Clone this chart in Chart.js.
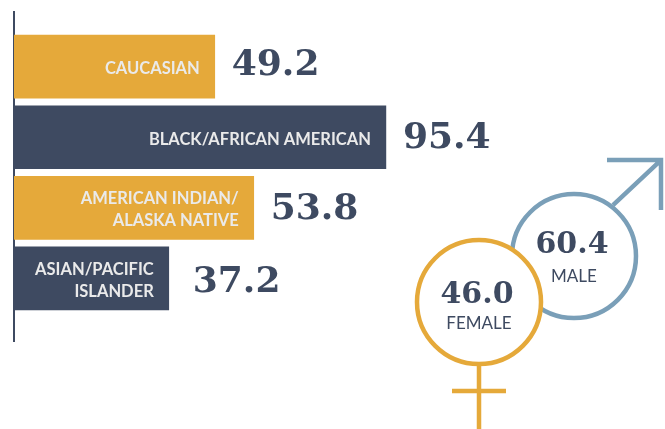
<!DOCTYPE html>
<html>
<head>
<meta charset="utf-8">
<style>
    html, body { margin: 0; padding: 0; background: #fff; overflow: hidden; }
    #wrap { position: relative; width: 665px; height: 429px; }
</style>
<script src="https://cdn.jsdelivr.net/npm/chart.js@4/dist/chart.umd.min.js"></script>
</head>
<body>
<div id="wrap"><canvas id="chart"></canvas></div>
<script>
const raceLabels = [['CAUCASIAN'], ['BLACK/AFRICAN AMERICAN'], ['AMERICAN INDIAN/', 'ALASKA NATIVE'], ['ASIAN/PACIFIC', 'ISLANDER']];
const raceValues = [49.2, 95.4, 53.8, 37.2];
// the bars in the picture are not to scale with the printed numbers, so the drawn lengths are read separately
const raceBarLengths = [51.5, 95.4, 61.5, 39.7];
const genderLabels = ['MALE', 'FEMALE'];
const genderValues = [60.4, 46.0];

const GOLD = '#e5a93a';
const NAVY = '#3e4a61';
const BLUE = '#7a9fb8';
const LABEL_FONT = 'Lato, sans-serif';
const VALUE_FONT = '"DejaVu Serif", serif';

const textPlugin = {
    id: 'textPlugin',
    afterDatasetsDraw(chart) {
        const ctx = chart.ctx;
        // the numbers wander a little around the bar centre in the original
        const valueShift = [-1, 1, 2, 4];
        ctx.save();
        ctx.textBaseline = 'middle';

        // bars: category inside, value outside
        chart.getDatasetMeta(0).data.forEach((bar, i) => {
            ctx.textAlign = 'right';
            ctx.fillStyle = '#eaeaea';
            ctx.font = 'bold 16.5px ' + LABEL_FONT;
            const lines = raceLabels[i];
            lines.forEach((line, j) => {
                ctx.fillText(line, bar.x - 15, bar.y + 2 + (j - (lines.length - 1) / 2) * 22.5);
            });
            ctx.textAlign = 'left';
            ctx.fillStyle = NAVY;
            ctx.font = 'bold 36px ' + VALUE_FONT;
            ctx.fillText(raceValues[i].toFixed(1), bar.x + (i === 3 ? 24 : 17), bar.y + valueShift[i]);
        });

        chart.getDatasetMeta(1).data.forEach((pt, i) => {
            ctx.lineWidth = 4.5;
            ctx.strokeStyle = i === 0 ? BLUE : GOLD;
            ctx.beginPath();
            if (i === 0) {
                // male arrow
                ctx.moveTo(pt.x + 39, pt.y - 51);
                ctx.lineTo(pt.x + 87, pt.y - 96);
                ctx.moveTo(pt.x + 33, pt.y - 96);
                ctx.lineTo(pt.x + 87, pt.y - 96);
                ctx.lineTo(pt.x + 87, pt.y - 46);
            } else {
                // female cross
                ctx.moveTo(pt.x, pt.y + 64);
                ctx.lineTo(pt.x, pt.y + 127);
                ctx.moveTo(pt.x - 27, pt.y + 89);
                ctx.lineTo(pt.x + 27, pt.y + 89);
            }
            ctx.stroke();

            ctx.textAlign = 'center';
            ctx.fillStyle = NAVY;
            ctx.font = 'bold 30px ' + VALUE_FONT;
            ctx.fillText(genderValues[i].toFixed(1), pt.x - 2, pt.y - (i === 0 ? 11 : 7));
            ctx.font = '17px ' + LABEL_FONT;
            ctx.fillText(genderLabels[i], pt.x, pt.y + (i === 0 ? 20 : 21));
        });
        ctx.restore();
    }
};

new Chart(document.getElementById('chart').getContext('2d'), {
    data: {
        datasets: [{
            type: 'bar',
            data: raceBarLengths.map((val, i) => ({ x: val, y: i })),
            backgroundColor: raceLabels.map((_, i) => i % 2 === 0 ? GOLD : NAVY),
            barThickness: 63,
            xAxisID: 'x',
            yAxisID: 'y',
            order: 2
        }, {
            type: 'scatter',
            // circles sit on their own hidden scales, height follows the value
            data: genderValues.map((val, i) => ({ x: i, y: val })),
            pointRadius: 62,
            pointBorderWidth: 4.5,
            pointBackgroundColor: '#fff',
            pointBorderColor: [BLUE, GOLD],
            clip: false,
            xAxisID: 'genderX',
            yAxisID: 'genderY',
            order: 1
        }]
    },
    options: {
        indexAxis: 'y',
        responsive: true,
        maintainAspectRatio: false,
        animation: false,
        events: [],
        layout: { autoPadding: false, padding: { left: 6, top: 12, bottom: 88, right: 0 } },
        plugins: { legend: { display: false }, tooltip: { enabled: false } },
        scales: {
            x: { type: 'linear', display: false, min: 0, max: 167 },
            y: {
                type: 'linear',
                reverse: true,
                offset: false,
                min: -1.22,
                max: 3.44,
                grid: { display: false, offset: false },
                ticks: { display: false },
                border: { display: true, color: NAVY, width: 2 }
            },
            genderX: { type: 'linear', display: false, reverse: true, min: -0.958, max: 5.895 },
            genderY: { type: 'linear', display: false, min: 33.8, max: 136.9 }
        }
    },
    plugins: [textPlugin]
});
</script>
</body>
</html>
